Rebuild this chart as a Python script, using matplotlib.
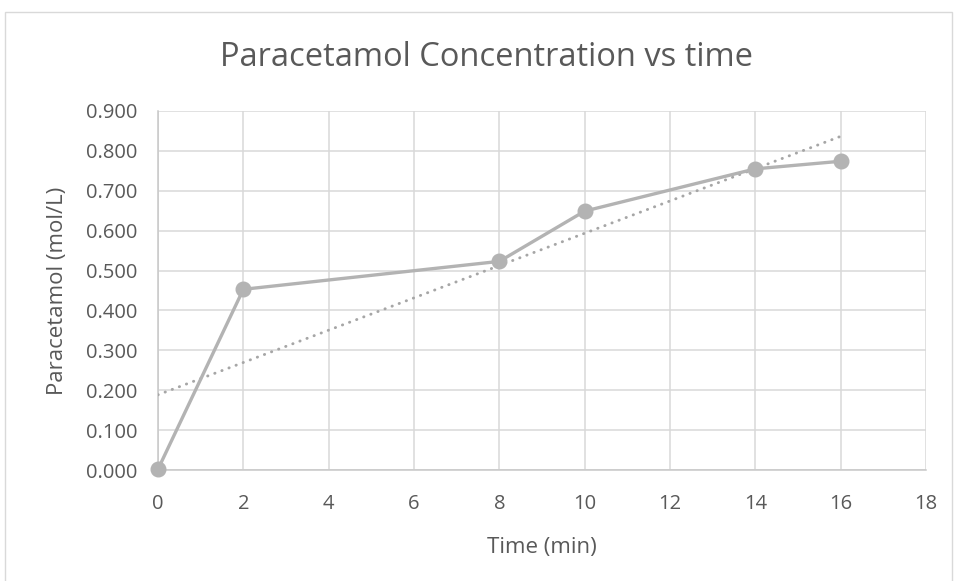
import numpy as np
import matplotlib.pyplot as plt
from matplotlib import font_manager
from matplotlib.patches import Rectangle

# data
time_min = [0, 2, 8, 10, 14, 16]
concentration = [0.002, 0.453, 0.523, 0.649, 0.755, 0.774]
x_ticks = [0, 2, 4, 6, 8, 10, 12, 14, 16, 18]
y_ticks = [0.0, 0.1, 0.2, 0.3, 0.4, 0.5, 0.6, 0.7, 0.8, 0.9]

installed = {f.name for f in font_manager.fontManager.ttflist}
font_name = 'Liberation Sans Narrow' if 'Liberation Sans Narrow' in installed else 'Open Sans'
plt.rcParams['font.family'] = [font_name, 'DejaVu Sans']

text_color = '#595959'
grid_color = '#d9d9d9'
series_color = '#b3b3b3'

fig = plt.figure(figsize=(9.57, 5.81), dpi=100)
fig.patches.append(Rectangle((5 / 957, -0.01), 947 / 957, 1 - 12 / 581 + 0.01,
                             transform=fig.transFigure, fill=False,
                             edgecolor='#d9d9d9', linewidth=1.0))

ax = fig.add_axes([158 / 957, 1 - 470 / 581, (926 - 158) / 957, (470 - 111) / 581])

# linear trendline fitted to the series (Excel style)
slope, intercept = np.polyfit(time_min, concentration, 1)
trend_x = np.array([time_min[0], time_min[-1]])
ax.plot(trend_x, slope * trend_x + intercept, color='#a6a6a6', linewidth=2.1,
        linestyle=(0, (0.1, 2.5)), dash_capstyle='round', zorder=3)

ax.plot(time_min, concentration, color=series_color, linewidth=2.4,
        marker='o', markersize=10.5, markerfacecolor=series_color,
        markeredgecolor=series_color, zorder=4, clip_on=False)

ax.set_xlim(0, 18)
ax.set_ylim(0, 0.9)
ax.set_xticks(x_ticks)
ax.set_yticks(y_ticks)
ax.set_yticklabels([f'{v:.3f}' for v in y_ticks])
ax.grid(True, color=grid_color, linewidth=1.1)
ax.set_axisbelow(True)

for side in ['top', 'right']:
    ax.spines[side].set_visible(False)
for side in ['left', 'bottom']:
    ax.spines[side].set_color('#c8c8c8')
    ax.spines[side].set_linewidth(1.1)

ax.tick_params(length=0, labelsize=14.5, labelcolor=text_color)
ax.tick_params(axis='x', pad=17)
ax.tick_params(axis='y', pad=15)

ax.set_xlabel('Time (min)', fontsize=16, color=text_color)
ax.set_ylabel('Paracetamol (mol/L)', fontsize=16, color=text_color)
ax.xaxis.set_label_coords((542 - 158) / 768, (470 - 547) / 359)
ax.xaxis.label.set_va('center')
ax.yaxis.set_label_coords((58 - 158) / 768, (470 - 291) / 359)
ax.yaxis.label.set_va('center')

fig.text(487 / 957, 1 - 57 / 581, 'Paracetamol Concentration vs time',
         ha='center', va='center', fontsize=23.5, color=text_color)

fig.savefig('out.png', dpi=100)
plt.close(fig)
